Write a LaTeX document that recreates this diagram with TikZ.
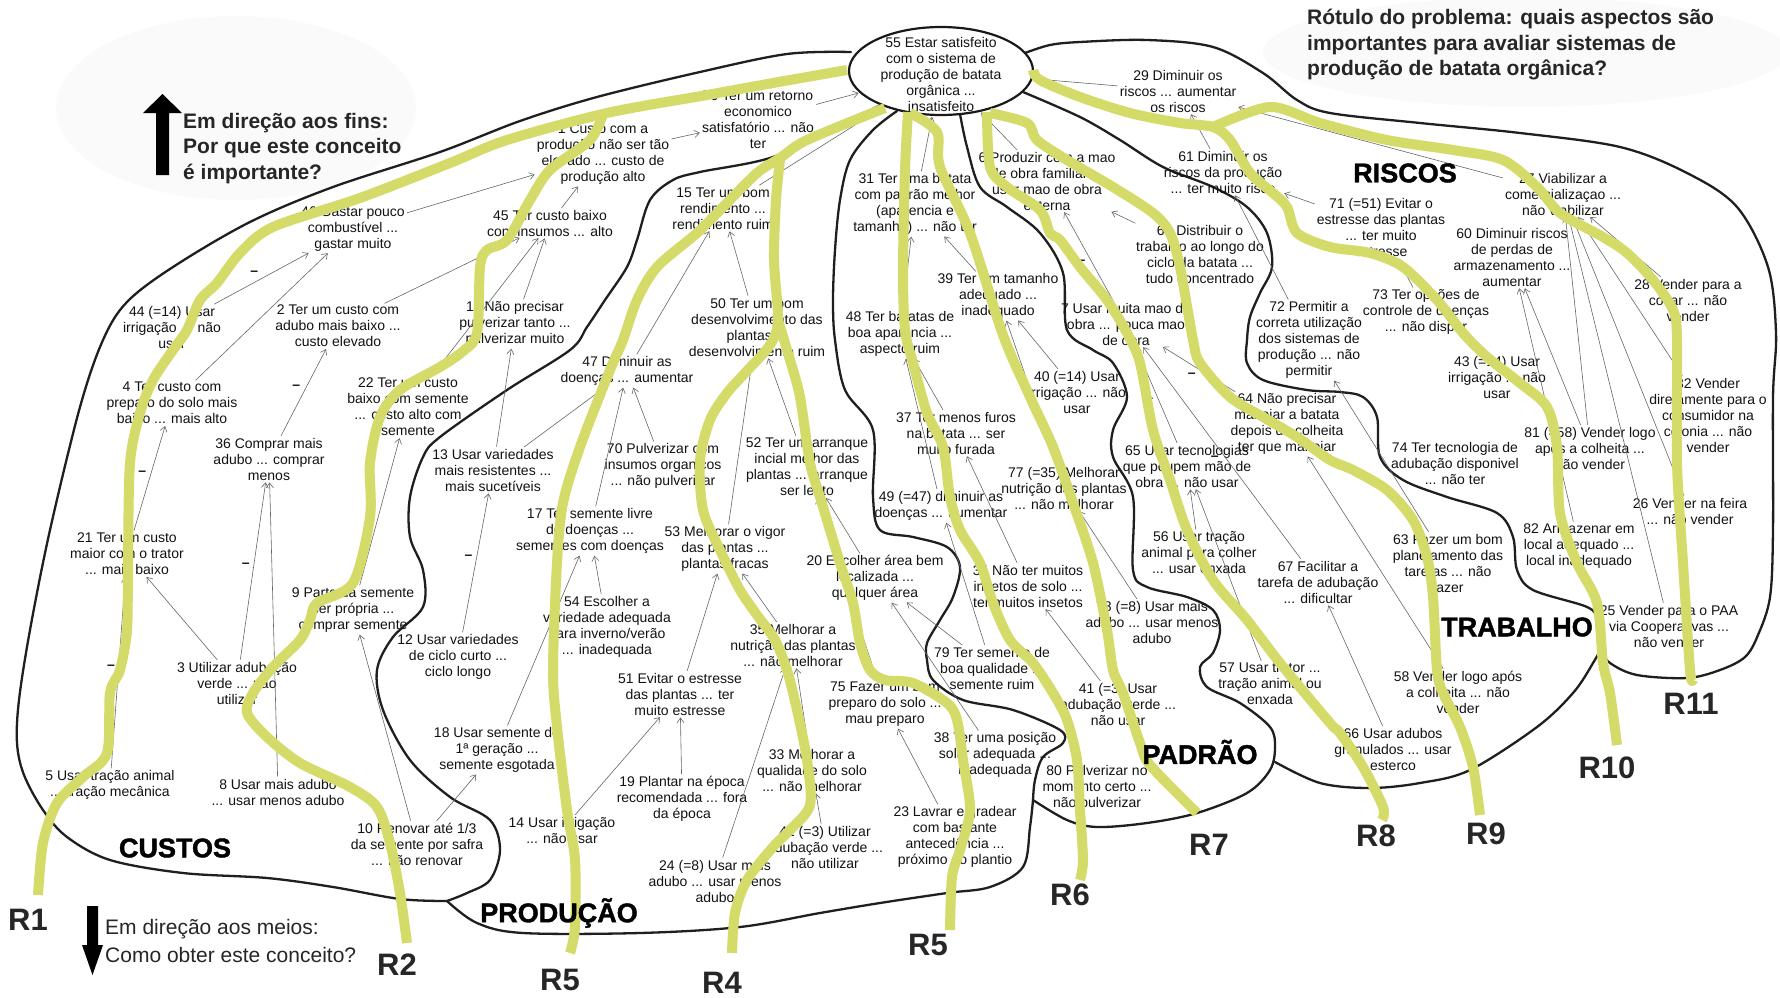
\documentclass[tikz,border=0pt]{standalone}
\usepackage{fontspec}
\setmainfont{Liberation Sans}
\newfontfamily\heavyfont{Liberation Sans Bold}[FakeBold=1.5]
\usetikzlibrary{shapes.geometric,arrows.meta}
\definecolor{route}{RGB}{212,219,104}
\definecolor{ink}{RGB}{18,18,18}
\definecolor{haze}{RGB}{250,250,250}
\begin{document}
\begin{tikzpicture}[x=1pt,y=-1pt,
  concept/.style={align=center,font=\fontsize{14}{16}\selectfont,inner sep=1pt,text=ink},
  lk/.style={draw=black!60,line width=0.6pt,-{Straight Barb[length=5pt,width=7pt]},shorten >=1pt,shorten <=1pt},
  neg/.style={auto,pos=0.5,inner sep=3pt,font=\fontsize{14}{14}\selectfont\bfseries,text=ink},
  border/.style={draw=black!88,line width=2.3pt,line cap=round,line join=round},
  route/.style={draw=route,line width=10pt,line cap=butt,line join=round},
  region/.style={font=\heavyfont\fontsize{27}{27}\selectfont,text=black,inner sep=0},
  rlabel/.style={font=\bfseries\fontsize{31}{31}\selectfont,text=black!85,inner sep=0},
  header/.style={align=left,font=\bfseries\fontsize{21}{25.5}\selectfont,text=black!85,inner sep=0,anchor=north west}]

\useasboundingbox (0,0) rectangle (1780,998);
\fill[white] (0,0) rectangle (1780,998);

% soft backdrops behind the two headings
\fill[haze] (236,108) ellipse [x radius=180,y radius=92];
\fill[haze] (1525,52) ellipse [x radius=262,y radius=55];

% ---------- region borders ----------
\draw[border] plot[smooth,tension=0.55] coordinates {(851,52) (787,54) (700,72) (597,97) (520,121) (440,152) (333,187) (250,222) (173,267) (127,302) (103,340) (80,407) (50,530) (30,630) (19,700) (17,743) (24,775) (43,810) (67,837) (110,860) (183,873) (267,878) (333,887) (400,899) (447,901)};
\draw[border] plot[smooth,tension=0.55] coordinates {(447,901) (477,923) (523,933) (640,933) (740,927) (820,913) (880,903) (947,893) (990,887) (1023,867) (1030,827) (1033,800)};
\draw[border] plot[smooth,tension=0.55] coordinates {(1033,800) (1067,820) (1097,827) (1147,823) (1197,813) (1247,793) (1270,770) (1275,747) (1270,727) (1240,703) (1207,687) (1200,667) (1213,653) (1220,630) (1213,610) (1187,597) (1147,587) (1133,570) (1133,497) (1113,457) (1113,430) (1127,397) (1113,363) (1093,350) (1067,330) (1063,273) (1040,233) (1007,207) (980,187) (967,147) (960,114)};
\draw[border] plot[smooth,tension=0.55] coordinates {(897,111) (873,130) (850,160) (840,200) (835,250) (833,300) (835,340) (845,390) (873,430) (873,497) (880,530) (913,537) (947,547) (960,567) (953,597) (940,620) (927,643) (927,660) (933,680) (963,700) (1013,710) (1060,730) (1063,743) (1043,757) (1035,780) (1033,800)};
\draw[border] plot[smooth,tension=0.55] coordinates {(879,106) (840,124) (773,157) (700,172) (673,180) (650,200) (637,240) (627,267) (605,300) (587,327) (570,350) (507,390) (440,437) (423,457) (410,497) (410,537) (423,570) (423,607) (393,637) (377,670) (383,710) (410,760) (450,797) (490,820) (500,850) (490,880) (467,893) (447,901)};
\draw[border] plot[smooth,tension=0.55] coordinates {(1023,92) (1080,117) (1120,140) (1163,167) (1213,187) (1247,207) (1267,233) (1272,267) (1260,293) (1250,317) (1247,340) (1247,363) (1263,380) (1307,390) (1340,392) (1363,397) (1377,417) (1380,457) (1403,480) (1447,497) (1497,513) (1513,537) (1517,570) (1533,590) (1587,607) (1597,620) (1600,647) (1593,663) (1573,693) (1537,727) (1470,770) (1420,783) (1370,788) (1320,783) (1275,762)};
\draw[border] plot[smooth,tension=0.55] coordinates {(1025,53) (1050,45) (1080,42) (1147,40) (1213,47) (1263,73) (1297,100) (1330,113) (1420,123) (1520,133) (1620,147) (1687,173) (1737,207) (1768,267) (1776,333) (1773,397) (1773,530) (1770,597) (1758,635) (1745,657) (1720,670) (1687,678) (1637,675) (1610,663) (1598,648)};

% ---------- central concept ----------
\node[draw=black!90,line width=2.2pt,ellipse,minimum width=184pt,minimum height=88pt,fill=white] (n55) at (941,71) {};
\node[concept] (t55) at (941,74) {55 Estar satisfeito\\com o sistema de\\produção de batata\\orgânica ...\\insatisfeito};

% ---------- concepts ----------
\node[concept] (n70r) at (758,120) {70 Ter um retorno\\economico\\satisfatório ... não\\ter};
\node[concept] (n1) at (603,154) {1 Custo com a\\produção não ser tão\\elevado ... custo de\\produção alto};
\node[concept] (n46) at (353,229) {46 Gastar pouco\\combustível ...\\gastar muito};
\node[concept] (n44) at (172,327) {44 (=14) Usar\\irrigação ... não\\usar};
\node[concept] (n2) at (338,326) {2 Ter um custo com\\adubo mais baixo ...\\custo elevado};
\node[concept] (n45) at (550,223) {45 Ter custo baixo\\com insumos ... alto};
\node[concept] (n11) at (515,324) {11 Não precisar\\pulverizar tanto ...\\pulverizar muito};
\node[concept] (n15) at (723,208) {15 Ter um bom\\rendimento ...\\rendimento ruim};
\node[concept] (n50) at (757,327) {50 Ter um bom\\desenvolvimento das\\plantas ...\\desenvolvimento ruim};
\node[concept] (n31) at (915,204) {31 Ter uma batata\\com padrão melhor\\(aparencia e\\tamanho) ... não ter};
\node[concept] (n48) at (900,334) {48 Ter batatas de\\boa aparência ...\\aspecto ruim};
\node[concept] (n29) at (1178,91) {29 Diminuir os\\riscos ... aumentar\\os riscos};
\node[concept] (n6) at (1047,181) {6 Produzir com a mao\\de obra familiar ...\\usar mao de obra\\externa};
\node[concept] (n39) at (998,296) {39 Ter um tamanho\\adequado ...\\inadequado};
\node[concept] (n61) at (1223,172) {61 Diminuir os\\riscos da produção\\... ter muito risco};
\node[concept] (n62) at (1200,254) {62 Distribuir o\\trabalho ao longo do\\ciclo da batata ...\\tudo concentrado};
\node[concept] (n7) at (1126,324) {7 Usar muita mao de\\obra ... pouca mao\\de obra};
\node[concept] (n72) at (1309,340) {72 Permitir a\\correta utilização\\dos sistemas de\\produção ... não\\permitir};
\node[concept] (n71) at (1381,227) {71 (=51) Evitar o\\estresse das plantas\\... ter muito\\estresse};
\node[concept] (n27) at (1563,194) {27 Viabilizar a\\comercializaçao ...\\não viabilizar};
\node[concept] (n60) at (1512,257) {60 Diminuir riscos\\de perdas de\\armazenamento ...\\aumentar};
\node[concept] (n73) at (1426,312) {73 Ter opções de\\controle de doenças\\... não dispor};
\node[concept] (n28) at (1688,300) {28 Vender para a\\cocar ... não\\vender};
\node[concept] (n43) at (1497,377) {43 (=14) Usar\\irrigação ... não\\usar};
\node[concept] (n74) at (1455,463) {74 Ter tecnologia de\\adubação disponivel\\... não ter};
\node[concept] (n81) at (1590,448) {81 (=58) Vender logo\\após a colheita ...\\não vender};
\node[concept] (n32) at (1708,415) {32 Vender\\diretamente para o\\consumidor na\\colonia ... não\\vender};
\node[concept] (n26) at (1690,511) {26 Vender na feira\\... não vender};
\node[concept] (n82) at (1579,546) {82 Armazenar em\\local adequado ...\\local inadequado};
\node[concept] (n63) at (1448,563) {63 Fazer um bom\\planejamento das\\tarefas ... não\\fazer};
\node[concept] (n25) at (1669,626) {25 Vender para o PAA\\via Cooperativas ...\\não vender};
\node[concept] (n58) at (1458,692) {58 Vender logo após\\a colheita ... não\\vender};
\node[concept] (n66) at (1393,749) {66 Usar adubos\\granulados ... usar\\esterco};
\node[concept] (n4) at (172,403) {4 Ter custo com\\preparo do solo mais\\baixo ... mais alto};
\node[concept] (n36) at (269,459) {36 Comprar mais\\adubo ... comprar\\menos};
\node[concept] (n22) at (408,407) {22 Ter um custo\\baixo com semente\\... custo alto com\\semente};
\node[concept] (n21) at (127,554) {21 Ter um custo\\maior com o trator\\... mais baixo};
\node[concept] (n9) at (353,610) {9 Parte da semente\\ser própria ...\\comprar semente};
\node[concept] (n13) at (493,470) {13 Usar variedades\\mais resistentes ...\\mais sucetíveis};
\node[concept] (n12) at (458,657) {12 Usar variedades\\de ciclo curto ...\\ciclo longo};
\node[concept] (n3) at (237,683) {3 Utilizar adubação\\verde ... não\\utilizar};
\node[concept] (n5) at (110,785) {5 Usar tração animal\\... tração mecânica};
\node[concept] (n8) at (278,792) {8 Usar mais adubo\\... usar menos adubo};
\node[concept] (n10) at (417,844) {10 Renovar até 1/3\\da semente por safra\\... não renovar};
\node[concept] (n47) at (627,371) {47 Diminuir as\\doenças ... aumentar};
\node[concept] (n70p) at (663,466) {70 Pulverizar com\\insumos organicos\\... não pulverizar};
\node[concept] (n52) at (807,467) {52 Ter um arranque\\incial melhor das\\plantas ... arranque\\ser lento};
\node[concept] (n17) at (590,531) {17 Ter semente livre\\de doenças ...\\sementes com doenças};
\node[concept] (n53) at (725,549) {53 Melhorar o vigor\\das plantas ...\\plantas fracas};
\node[concept] (n54) at (607,627) {54 Escolher a\\variedade adequada\\para inverno/verão\\... inadequada};
\node[concept] (n35) at (793,645) {35 Melhorar a\\nutrição das plantas\\... não melhorar};
\node[concept] (n20) at (875,578) {20 Escolher área bem\\localizada ...\\qualquer área};
\node[concept] (n40) at (1077,392) {40 (=14) Usar\\irrigação ... não\\usar};
\node[concept] (n37) at (956,433) {37 Ter menos furos\\na batata ... ser\\muito furada};
\node[concept] (n77) at (1064,488) {77 (=35) Melhorar\\nutrição das plantas\\... não melhorar};
\node[concept] (n65) at (1187,466) {65 Usar tecnologias\\que poupem mão de\\obra ... não usar};
\node[concept] (n49) at (941,506) {49 (=47) diminuir as\\doenças ... aumentar};
\node[concept] (n34) at (1028,586) {34 Não ter muitos\\insetos de solo ...\\ter muitos insetos};
\node[concept] (n56) at (1199,553) {56 Usar tração\\animal para colher\\... usar enxada};
\node[concept] (n78) at (1152,622) {78 (=8) Usar mais\\adubo ... usar menos\\adubo};
\node[concept] (n79) at (992,668) {79 Ter semente de\\boa qualidade ...\\semente ruim};
\node[concept] (n67) at (1318,582) {67 Facilitar a\\tarefa de adubação\\... dificultar};
\node[concept] (n64) at (1287,424) {64 Não precisar\\manejar a batata\\depois da colheita\\ter que manejar};
\node[concept] (n51) at (680,694) {51 Evitar o estresse\\das plantas ... ter\\muito estresse};
\node[concept] (n18) at (497,750) {18 Usar semente de\\1ª geração ...\\semente esgotada};
\node[concept] (n19) at (682,799) {19 Plantar na época\\recomendada ... fora\\da época};
\node[concept] (n14) at (562,830) {14 Usar irrigação\\... não usar};
\node[concept] (n33) at (812,770) {33 Melhorar a\\qualidade do solo\\... não melhorar};
\node[concept] (n42) at (825,847) {42 (=3) Utilizar\\adubação verde ...\\não utilizar};
\node[concept] (n24) at (715,881) {24 (=8) Usar mais\\adubo ... usar menos\\adubo};
\node[concept] (n75) at (885,704) {75 Fazer um bom\\preparo do solo ...\\mau preparo};
\node[concept] (n41) at (1118,704) {41 (=3) Usar\\adubação verde ...\\não usar};
\node[concept] (n38) at (995,755) {38 Ter uma posição\\solar adequada ...\\inadequada};
\node[concept] (n80) at (1097,788) {80 Pulverizar no\\momento certo ...\\não pulverizar};
\node[concept] (n23) at (955,837) {23 Lavrar e gradear\\com bastante\\antecedência ...\\próximo do plantio};
\node[concept] (n57) at (1270,684) {57 Usar trator ...\\tração animal ou\\enxada};

% ---------- links ----------
\draw[lk] (n70r) -- (n55);
\draw[lk] (n29) -- (n55);
\draw[lk] (n31) -- (n55);
\draw[lk] (n6) -- (n55);
\draw[lk] (n15) -- (n55);
\draw[lk] (n1) -- (n70r);
\draw[lk] (n46) -- (n1);
\draw[lk] (n45) -- (n1);
\draw[lk] (n2) -- (n45);
\draw[lk] (n22) -- (n45);
\draw[lk] (n11) -- (n45);
\draw[lk] (n44) -- node[neg] {–} (n46);
\draw[lk] (n4) -- (n46);
\draw[lk] (n36) -- node[neg] {–} (n2);
\draw[lk] (n21) -- node[neg] {–} (n4);
\draw[lk] (n3) -- (n21);
\draw[lk] (n3) -- node[neg] {–} (n36);
\draw[lk] (n8) -- (n36);
\draw[lk] (n5) -- node[neg] {–} (n21);
\draw[lk] (n9) -- (n22);
\draw[lk] (n10) -- (n9);
\draw[lk] (n10) -- (n18);
\draw[lk] (n13) -- (n11);
\draw[lk] (n13) -- (n47);
\draw[lk] (n12) -- node[neg] {–} (n13);
\draw[lk] (n47) -- (n15);
\draw[lk] (n17) -- (n47);
\draw[lk] (n70p) -- (n47);
\draw[lk] (n50) -- (n15);
\draw[lk] (n18) -- (n17);
\draw[lk] (n54) -- (n17);
\draw[lk] (n53) -- (n50);
\draw[lk] (n52) -- (n50);
\draw[lk] (n35) -- (n53);
\draw[lk] (n51) -- (n53);
\draw[lk] (n20) -- (n52);
\draw[lk] (n75) -- (n52);
\draw[lk] (n14) -- (n51);
\draw[lk] (n19) -- (n51);
\draw[lk] (n24) -- (n35);
\draw[lk] (n33) -- (n35);
\draw[lk] (n42) -- (n33);
\draw[lk] (n79) -- (n20);
\draw[lk] (n23) -- (n75);
\draw[lk] (n38) -- (n20);
\draw[lk] (n48) -- (n31);
\draw[lk] (n39) -- (n31);
\draw[lk] (n37) -- (n48);
\draw[lk] (n49) -- (n48);
\draw[lk] (n40) -- (n39);
\draw[lk] (n77) -- (n39);
\draw[lk] (n34) -- (n37);
\draw[lk] (n79) -- (n49);
\draw[lk] (n78) -- (n77);
\draw[lk] (n41) -- (n34);
\draw[lk] (n7) -- node[neg] {–} (n6);
\draw[lk] (n62) -- (n6);
\draw[lk] (n65) -- node[neg] {–} (n7);
\draw[lk] (n67) -- node[neg] {–} (n7);
\draw[lk] (n64) -- node[neg] {–} (n7);
\draw[lk] (n56) -- (n65);
\draw[lk] (n57) -- (n65);
\draw[lk] (n61) -- (n29);
\draw[lk] (n72) -- (n61);
\draw[lk] (n71) -- (n61);
\draw[lk] (n27) -- (n29);
\draw[lk] (n73) -- (n71);
\draw[lk] (n81) -- (n60);
\draw[lk] (n82) -- (n60);
\draw[lk] (n81) -- (n27);
\draw[lk] (n26) -- (n27);
\draw[lk] (n25) -- (n27);
\draw[lk] (n32) -- (n27);
\draw[lk] (n28) -- (n27);
\draw[lk] (n63) -- (n72);
\draw[lk] (n58) -- (n64);
\draw[lk] (n66) -- (n67);

% ---------- routes ----------
\draw[route] plot[smooth,tension=0.5] coordinates {(847,70) (773,83) (707,95) (607,113) (507,140) (450,163) (360,198) (273,227) (240,253) (217,283) (200,300) (187,330) (173,350) (153,380) (140,413) (130,463) (128,563) (127,630) (120,670) (110,693) (107,753) (83,777) (57,803) (43,843) (38,895)};
\draw[route] plot[smooth,tension=0.5] coordinates {(603,114) (590,140) (550,170) (530,200) (507,240) (487,250) (480,267) (477,333) (462,352) (440,367) (400,390) (380,417) (370,463) (370,517) (353,583) (317,603) (310,620) (300,640) (273,667) (253,693) (247,713) (267,737) (300,763) (350,787) (377,807) (390,843) (400,893) (407,943)};
\draw[route] plot[smooth,tension=0.5] coordinates {(885,108) (807,140) (780,158) (757,173) (723,207) (697,233) (657,267) (637,300) (623,340) (610,370) (580,447) (563,503) (557,563) (553,670) (557,727) (567,810) (575,860) (575,927) (570,953)};
\draw[route] plot[smooth,tension=0.5] coordinates {(780,160) (776,200) (774,260) (778,320) (770,345) (745,373) (727,393) (710,420) (700,460) (703,510) (720,550) (740,590) (757,615) (775,640) (787,670) (797,710) (807,760) (810,805) (790,830) (773,847) (747,880) (735,913) (732,953)};
\draw[route] plot[smooth,tension=0.5] coordinates {(778,320) (790,360) (800,397) (810,463) (820,497) (840,563) (853,603) (860,643) (870,670) (885,680) (913,683) (947,703) (957,720) (963,760) (970,810) (960,850) (952,877) (950,930)};
\draw[route] plot[smooth,tension=0.5] coordinates {(908,112) (905,170) (903,270) (905,330) (913,363) (927,413) (943,447) (950,497) (960,530) (980,563) (993,603) (1010,640) (1033,663) (1053,693) (1067,720) (1077,760) (1080,810) (1083,860) (1080,880)};
\draw[route] plot[smooth,tension=0.5] coordinates {(910,113) (937,132) (940,167) (970,233) (1003,335) (1030,397) (1053,447) (1073,503) (1093,563) (1107,630) (1113,670) (1123,693) (1140,743) (1150,765) (1197,813)};
\draw[route] plot[smooth,tension=0.5] coordinates {(987,112) (990,167) (1007,187) (1040,210) (1050,233) (1060,240) (1080,267) (1107,300) (1127,333) (1140,363) (1153,430) (1170,480) (1187,530) (1213,580) (1247,620) (1280,663) (1330,723) (1340,733) (1363,767) (1383,807) (1382,820)};
\draw[route] plot[smooth,tension=0.5] coordinates {(990,113) (1027,123) (1037,140) (1067,160) (1113,187) (1153,213) (1170,233) (1180,267) (1193,340) (1200,363) (1230,397) (1263,417) (1297,437) (1330,460) (1353,470) (1387,490) (1413,520) (1427,557) (1433,597) (1437,670) (1443,693) (1460,727) (1473,767) (1480,815)};
\draw[route] plot[smooth,tension=0.5] coordinates {(1033,70) (1040,80) (1080,97) (1130,113) (1180,123) (1213,127) (1230,140) (1250,173) (1273,193) (1287,207) (1297,233) (1330,247) (1370,253) (1403,267) (1437,300) (1463,333) (1487,357) (1520,383) (1547,407) (1557,447) (1560,513) (1577,563) (1597,603) (1603,663) (1610,693) (1617,745)};
\draw[route] plot[smooth,tension=0.5] coordinates {(1213,127) (1270,107) (1320,123) (1387,140) (1453,150) (1503,160) (1537,187) (1560,213) (1603,237) (1627,253) (1653,280) (1673,310) (1677,340) (1677,463) (1683,563) (1690,670) (1693,680)};

% ---------- region names ----------
\node[region] (lcustos) at (175,848) {CUSTOS};
\node[region] (lprod) at (559,913) {PRODUÇÃO};
\node[region] (lpadrao) at (1200,752) {PADRÃO};
\node[region] (ltrab) at (1517,627) {TRABALHO};
\node[region] (lriscos) at (1405,173) {RISCOS};

% ---------- route names ----------
\node[rlabel] (r1) at (28,920) {R1};
\node[rlabel] (r2) at (397,965) {R2};
\node[rlabel] (r5a) at (560,980) {R5};
\node[rlabel] (r4) at (722,983) {R4};
\node[rlabel] (r5b) at (928,945) {R5};
\node[rlabel] (r6) at (1070,895) {R6};
\node[rlabel] (r7) at (1209,845) {R7};
\node[rlabel] (r8) at (1376,836) {R8};
\node[rlabel] (r9) at (1486,834) {R9};
\node[rlabel] (r10) at (1607,768) {R10};
\node[rlabel] (r11) at (1691,704) {R11};

% ---------- reading directions and heading ----------
\fill[black] (143,113) -- (162.5,94) -- (182,113) -- (169,113) -- (169,175) -- (156,175) -- (156,113) -- cycle;
\node[header] (ends) at (183,113) {Em direção aos fins:\\Por que este conceito\\é importante?};
\fill[black] (87,906) -- (98,906) -- (98,945) -- (103,945) -- (92.5,975) -- (82,945) -- (87,945) -- cycle;
\node[header,font=\fontsize{21}{28}\selectfont] (means) at (105,919) {Em direção aos meios:\\Como obter este conceito?};
\node[header] (problem) at (1307,9) {Rótulo do problema: quais aspectos são\\importantes para avaliar sistemas de\\produção de batata orgânica?};
\end{tikzpicture}
\end{document}
